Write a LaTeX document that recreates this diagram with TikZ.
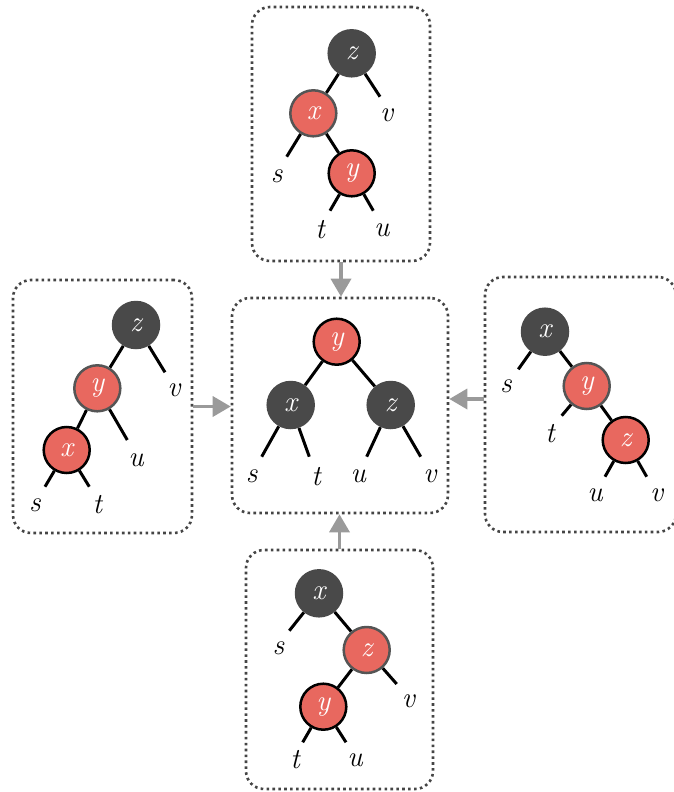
\documentclass[tikz,border=0pt]{standalone}
\usetikzlibrary{arrows.meta,backgrounds}
\definecolor{rbred}{HTML}{E8685F}
\definecolor{rbdark}{HTML}{494949}
\definecolor{rbrim}{HTML}{555555}
\definecolor{framegray}{HTML}{454545}
\definecolor{arrowgray}{HTML}{9A9A9A}

\begin{document}
\begin{tikzpicture}[x=1pt,y=-1pt,
  every node/.style={font=\fontsize{29}{29}\selectfont\itshape},
  blacknode/.style={circle, fill=rbdark, minimum size=48.5pt, inner sep=0pt, text=white},
  rednode/.style={circle, fill=rbred, draw=black, line width=2.5pt, minimum size=46pt, inner sep=0pt, text=white},
  redrim/.style={rednode, draw=rbrim},
  leaf/.style={inner sep=0pt, text=black},
  edge/.style={line width=3pt, draw=black},
  frame/.style={draw=framegray, line width=2.6pt, dash pattern=on 2.6pt off 3.3pt,
                rounded corners=18pt, inner sep=0pt},
  link/.style={draw=arrowgray, line width=3.5pt, -{Triangle[width=20pt,length=18pt]}}]

\useasboundingbox (0,0) rectangle (673,792);

% frames around the five trees
\node[frame, minimum width=178pt, minimum height=254pt] (topbox) at (341,134) {};
\node[frame, minimum width=216pt, minimum height=215pt] (midbox) at (340,405.5) {};
\node[frame, minimum width=179pt, minimum height=253pt] (leftbox) at (102.5,406.5) {};
\node[frame, minimum width=191pt, minimum height=255pt] (rightbox) at (580.5,404.5) {};
\node[frame, minimum width=187pt, minimum height=239pt] (botbox) at (339.5,669.5) {};

% ---------- top tree ----------
\node[blacknode] (Tz) at (351.7,53.3) {z};
\node[redrim] (Tx) at (313.3,113.3) {x};
\node[rednode] (Ty) at (351.7,173.3) {y};
\coordinate (Tzv) at (380,96.7);
\coordinate (Txs) at (286.7,156.7);
\coordinate (Tyt) at (330,210.7);
\coordinate (Tyu) at (373.3,210.7);
\node[leaf] (Tv) at (386.7,115) {v};
\node[leaf] (Ts) at (276.7,176.7) {s};
\node[leaf] (Tt) at (320,230) {t};
\node[leaf] (Tu) at (381.7,230) {u};

% ---------- middle tree ----------
\node[rednode] (My) at (336.7,341.7) {y};
\node[blacknode] (Mx) at (290.7,405) {x};
\node[blacknode] (Mz) at (390.7,405) {z};
\coordinate (Mxs) at (261.7,456.7);
\coordinate (Mxt) at (309.3,456.7);
\coordinate (Mzu) at (366.7,456.7);
\coordinate (Mzv) at (420.7,456.7);
\node[leaf] (Ms) at (251.7,476.7) {s};
\node[leaf] (Mt) at (316,476.7) {t};
\node[leaf] (Mu) at (358.3,476.7) {u};
\node[leaf] (Mv) at (430,476.7) {v};

% ---------- right tree ----------
\node[blacknode] (Rx) at (545,331.7) {x};
\node[redrim] (Ry) at (586.7,386) {y};
\node[rednode] (Rz) at (625.7,440) {z};
\coordinate (Rxs) at (518.3,369.3);
\coordinate (Ryt) at (561.7,415.7);
\coordinate (Rzu) at (605,476.7);
\coordinate (Rzv) at (646.7,476.7);
\node[leaf] (Rs) at (506,386.7) {s};
\node[leaf] (Rt) at (550,433.3) {t};
\node[leaf] (Ru) at (595,495) {u};
\node[leaf] (Rv) at (656.7,495) {v};

% ---------- left tree ----------
\node[blacknode] (Lz) at (136,325) {z};
\node[redrim] (Ly) at (97.3,388.3) {y};
\node[rednode] (Lx) at (66.7,450) {x};
\coordinate (Lzv) at (165,372.3);
\coordinate (Lyu) at (127.3,440);
\coordinate (Lxs) at (45,486.7);
\coordinate (Lxt) at (89.3,486.7);
\node[leaf] (Lv) at (174,390) {v};
\node[leaf] (Lu) at (136,460) {u};
\node[leaf] (Ls) at (35,505) {s};
\node[leaf] (Lt) at (97.3,505) {t};

% ---------- bottom tree ----------
\node[blacknode] (Bx) at (319,593.3) {x};
\node[redrim] (Bz) at (366.7,650) {z};
\node[rednode] (By) at (323.3,706.7) {y};
\coordinate (Bxs) at (289.3,630.7);
\coordinate (Bzv) at (396.7,684);
\coordinate (Byt) at (302.7,742.3);
\coordinate (Byu) at (346,742.3);
\node[leaf] (Bs) at (278.3,648.3) {s};
\node[leaf] (Bv) at (408.3,701.7) {v};
\node[leaf] (Bt) at (295,760) {t};
\node[leaf] (Bu) at (355,760) {u};

% tree edges, kept under the nodes
\begin{scope}[on background layer]
  \draw[edge] (Tz) -- (Tx);  \draw[edge] (Tx) -- (Ty);
  \draw[edge] (Tz) -- (Tzv); \draw[edge] (Tx) -- (Txs);
  \draw[edge] (Ty) -- (Tyt); \draw[edge] (Ty) -- (Tyu);

  \draw[edge] (My) -- (Mx);  \draw[edge] (My) -- (Mz);
  \draw[edge] (Mx) -- (Mxs); \draw[edge] (Mx) -- (Mxt);
  \draw[edge] (Mz) -- (Mzu); \draw[edge] (Mz) -- (Mzv);

  \draw[edge] (Rx) -- (Ry);  \draw[edge] (Ry) -- (Rz);
  \draw[edge] (Rx) -- (Rxs); \draw[edge] (Ry) -- (Ryt);
  \draw[edge] (Rz) -- (Rzu); \draw[edge] (Rz) -- (Rzv);

  \draw[edge] (Lz) -- (Ly);  \draw[edge] (Ly) -- (Lx);
  \draw[edge] (Lz) -- (Lzv); \draw[edge] (Ly) -- (Lyu);
  \draw[edge] (Lx) -- (Lxs); \draw[edge] (Lx) -- (Lxt);

  \draw[edge] (Bx) -- (Bz);  \draw[edge] (Bz) -- (By);
  \draw[edge] (Bx) -- (Bxs); \draw[edge] (Bz) -- (Bzv);
  \draw[edge] (By) -- (Byt); \draw[edge] (By) -- (Byu);
\end{scope}

% arrows into the balanced tree
\draw[link] (topbox.south) -- (topbox.south |- midbox.north);
\draw[link] (botbox.north) -- (botbox.north |- midbox.south);
\draw[link] (leftbox.east |- 0,406.5) -- (midbox.west |- 0,406.5);
\draw[link] (rightbox.west |- 0,399) -- (midbox.east |- 0,399);
\end{tikzpicture}
\end{document}
